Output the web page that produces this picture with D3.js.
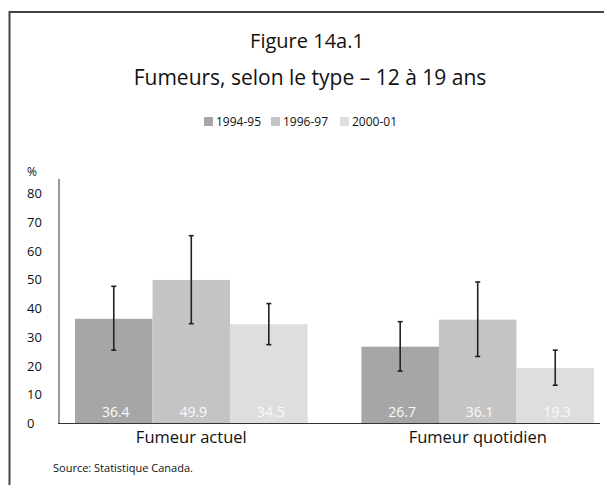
<!DOCTYPE html>
<html>
<head>
<meta charset="utf-8">
<script src="https://cdn.jsdelivr.net/npm/d3@7"></script>
<style>
  body { margin: 0; background: #fff; overflow: hidden; }
  svg { display: block; }
  svg text { font-family: "Open Sans", sans-serif; }
</style>
</head>
<body>
<script>
// data
var categories = ["Fumeur actuel", "Fumeur quotidien"];
var periods = ["1994-95", "1996-97", "2000-01"];
var values = [[36.4, 49.9, 34.5], [26.7, 36.1, 19.3]];
var errLow = [[25.5, 34.7, 27.4], [18.2, 23.3, 13.3]];
var errHigh = [[47.7, 65.3, 41.7], [35.4, 49.2, 25.5]];
var yTicks = [0, 10, 20, 30, 40, 50, 60, 70, 80];
var colors = ["#a6a6a6", "#c4c4c4", "#dedede"];

var width = 604, height = 485;

var svg = d3.select("body").append("svg")
  .attr("width", width)
  .attr("height", height);

// frame (right and bottom sit outside the crop)
svg.append("path")
  .attr("d", "M9.5,490 V12 H620")
  .attr("fill", "none")
  .attr("stroke", "#444")
  .attr("stroke-width", 2);

// titles
svg.append("text").attr("x", 307).attr("y", 48)
  .attr("text-anchor", "middle").attr("font-size", 20).attr("fill", "#111")
  .text("Figure 14a.1");
svg.append("text").attr("x", 310).attr("y", 85)
  .attr("text-anchor", "middle").attr("font-size", 21).attr("fill", "#111")
  .text("Fumeurs, selon le type – 12 à 19 ans");

// scales
var x0 = d3.scaleBand().domain(categories).range([75, 594]).paddingInner(0.188).paddingOuter(0);
var x1 = d3.scaleBand().domain(periods).range([0, x0.bandwidth()]).padding(0);
var y = d3.scaleLinear().domain([0, 85]).range([423.5, 179]);
var color = d3.scaleOrdinal().domain(periods).range(colors);

// legend
var legend = svg.append("g").attr("transform", "translate(204,117)");
var lx = [0, 67, 136];
periods.forEach(function(p, i) {
  var g = legend.append("g").attr("transform", "translate(" + lx[i] + ",0)");
  g.append("rect").attr("width", 9).attr("height", 9).attr("fill", color(p));
  g.append("text").attr("x", 12).attr("y", 9).attr("font-size", 12).attr("fill", "#111").text(p);
});

// y axis labels (left aligned, no tick lines)
var yAxis = svg.append("g")
  .attr("transform", "translate(27,0)")
  .call(d3.axisLeft(y).tickValues(yTicks).tickSize(0).tickPadding(0));
yAxis.select(".domain").remove();
yAxis.selectAll("text")
  .attr("text-anchor", "start")
  .attr("font-family", "Open Sans, sans-serif")
  .attr("font-size", 13)
  .attr("fill", "#111");

svg.append("text").attr("x", 27).attr("y", 176)
  .attr("font-size", 12).attr("fill", "#111").text("%");

// y axis line
svg.append("line")
  .attr("x1", 59).attr("x2", 59)
  .attr("y1", y(85)).attr("y2", y(0))
  .attr("stroke", "#555").attr("stroke-width", 1.2);

// bars
var groups = svg.selectAll(".grp")
  .data(categories)
  .enter().append("g")
  .attr("class", "grp")
  .attr("transform", function(d) { return "translate(" + x0(d) + ",0)"; });

groups.each(function(cat, ci) {
  var g = d3.select(this);
  var rows = periods.map(function(p, pi) {
    return { p: p, v: values[ci][pi], lo: errLow[ci][pi], hi: errHigh[ci][pi] };
  });

  g.selectAll("rect").data(rows).enter().append("rect")
    .attr("x", function(d) { return x1(d.p); })
    .attr("width", x1.bandwidth())
    .attr("y", function(d) { return y(d.v); })
    .attr("height", function(d) { return y(0) - y(d.v); })
    .attr("fill", function(d) { return color(d.p); });

  g.selectAll(".val").data(rows).enter().append("text")
    .attr("class", "val")
    .attr("x", function(d) { return x1(d.p) + x1.bandwidth() / 2 + 2; })
    .attr("y", 417)
    .attr("text-anchor", "middle")
    .attr("font-size", 14)
    .attr("fill", "#fafafa")
    .text(function(d) { return d.v.toFixed(1); });

  // error bars
  var eb = g.selectAll(".err").data(rows).enter().append("g").attr("class", "err")
    .attr("stroke", "#222").attr("stroke-width", 1.6);
  eb.append("line")
    .attr("x1", function(d) { return x1(d.p) + x1.bandwidth() / 2; })
    .attr("x2", function(d) { return x1(d.p) + x1.bandwidth() / 2; })
    .attr("y1", function(d) { return y(d.lo); })
    .attr("y2", function(d) { return y(d.hi); });
  eb.append("line")
    .attr("x1", function(d) { return x1(d.p) + x1.bandwidth() / 2 - 2.5; })
    .attr("x2", function(d) { return x1(d.p) + x1.bandwidth() / 2 + 2.5; })
    .attr("y1", function(d) { return y(d.lo); })
    .attr("y2", function(d) { return y(d.lo); });
  eb.append("line")
    .attr("x1", function(d) { return x1(d.p) + x1.bandwidth() / 2 - 2.5; })
    .attr("x2", function(d) { return x1(d.p) + x1.bandwidth() / 2 + 2.5; })
    .attr("y1", function(d) { return y(d.hi); })
    .attr("y2", function(d) { return y(d.hi); });
});

// x axis line
svg.append("line")
  .attr("x1", 58).attr("x2", 600)
  .attr("y1", y(0)).attr("y2", y(0))
  .attr("stroke", "#333").attr("stroke-width", 1.2);

// category labels
svg.selectAll(".cat")
  .data(categories)
  .enter().append("text")
  .attr("class", "cat")
  .attr("x", function(d) { return x0(d) + x0.bandwidth() / 2; })
  .attr("y", 443)
  .attr("text-anchor", "middle")
  .attr("font-size", 16.5)
  .attr("fill", "#111")
  .text(function(d) { return d; });

svg.append("text").attr("x", 53).attr("y", 472)
  .attr("font-size", 11).attr("fill", "#111")
  .text("Source: Statistique Canada.");
</script>
</body>
</html>
